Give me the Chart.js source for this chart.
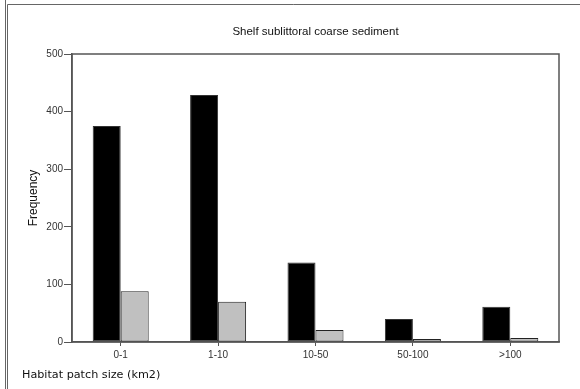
<!DOCTYPE html>
<html>
<head>
<meta charset="utf-8">
<script src="https://cdn.jsdelivr.net/npm/chart.js@4/dist/chart.umd.min.js"></script>
<style>
  html, body { margin: 0; padding: 0; background: #fff; }
  #wrap { position: relative; width: 580px; height: 389px; }
</style>
</head>
<body>
<div id="wrap"><canvas id="c" width="580" height="389"></canvas></div>
<script>
const categories = ['0-1', '1-10', '10-50', '50-100', '>100'];
const seriesBlack = [375, 429, 138, 40, 61];
const seriesGrey = [88, 70, 21, 5, 7];
const yTicks = [0, 100, 200, 300, 400, 500];
const chartTitle = 'Shelf sublittoral coarse sediment';
const xTitle = 'Habitat patch size (km2)';
const yTitle = 'Frequency';

const AXIS = '#555';
const TXT = '#333';

const decor = {
  id: 'decor',
  afterDraw(chart) {
    const ctx = chart.ctx;
    const a = chart.chartArea;
    ctx.save();
    // plot frame
    ctx.strokeStyle = AXIS;
    ctx.lineWidth = 1.5;
    ctx.strokeRect(a.left, a.top, a.right - a.left, a.bottom - a.top);
    // outer double border
    ctx.strokeStyle = '#666';
    ctx.lineWidth = 1;
    ctx.beginPath();
    ctx.moveTo(5.5, 0); ctx.lineTo(5.5, 389);
    ctx.moveTo(7.5, 4.5); ctx.lineTo(7.5, 389);
    ctx.moveTo(7.5, 4.5); ctx.lineTo(580, 4.5);
    ctx.stroke();
    // title
    ctx.fillStyle = '#111';
    ctx.font = '11.5px "Liberation Sans", Arial, sans-serif';
    ctx.textAlign = 'center';
    ctx.textBaseline = 'middle';
    ctx.fillText(chartTitle, (a.left + a.right) / 2, 32);
    // x title
    ctx.font = '11.2px "DejaVu Sans", Verdana, sans-serif';
    ctx.textAlign = 'left';
    ctx.fillStyle = '#111';
    ctx.fillText(xTitle, 22, 375);
    ctx.restore();
  }
};

new Chart(document.getElementById('c'), {
  type: 'bar',
  data: {
    labels: categories,
    datasets: [
      { data: seriesBlack, backgroundColor: '#000', borderColor: '#333', borderWidth: 1, borderSkipped: false },
      { data: seriesGrey, backgroundColor: '#c0c0c0', borderColor: '#222', borderWidth: 1, borderSkipped: false }
    ]
  },
  options: {
    responsive: false,
    animation: false,
    devicePixelRatio: 1,
    categoryPercentage: 0.575,
    barPercentage: 1.0,
    layout: { padding: { left: 0, right: 21, top: 54, bottom: 0 } },
    plugins: {
      legend: { display: false },
      title: { display: false },
      tooltip: { enabled: false }
    },
    scales: {
      x: {
        grid: { display: true, offset: false, drawOnChartArea: false, tickLength: 4, color: AXIS, lineWidth: 1 },
        border: { display: true, color: AXIS, width: 1.5 },
        ticks: { color: TXT, font: { family: '"Liberation Sans", Arial, sans-serif', size: 10 }, padding: 3, maxRotation: 0 },
        afterFit(s) { s.height = 47; }
      },
      y: {
        min: 0, max: 500,
        afterBuildTicks(s) { s.ticks = yTicks.map(v => ({ value: v })); },
        grid: { display: true, drawOnChartArea: false, tickLength: 8, color: AXIS, lineWidth: 1 },
        border: { display: true, color: AXIS, width: 1.5 },
        ticks: { color: TXT, font: { family: '"Liberation Sans", Arial, sans-serif', size: 10 }, padding: 1 },
        title: { display: true, text: yTitle, color: '#111', font: { family: '"Liberation Sans", Arial, sans-serif', size: 12 }, padding: { top: 26, bottom: 0 } },
        afterFit(s) { s.width = 72; }
      }
    }
  },
  plugins: [decor]
});
</script>
</body>
</html>
